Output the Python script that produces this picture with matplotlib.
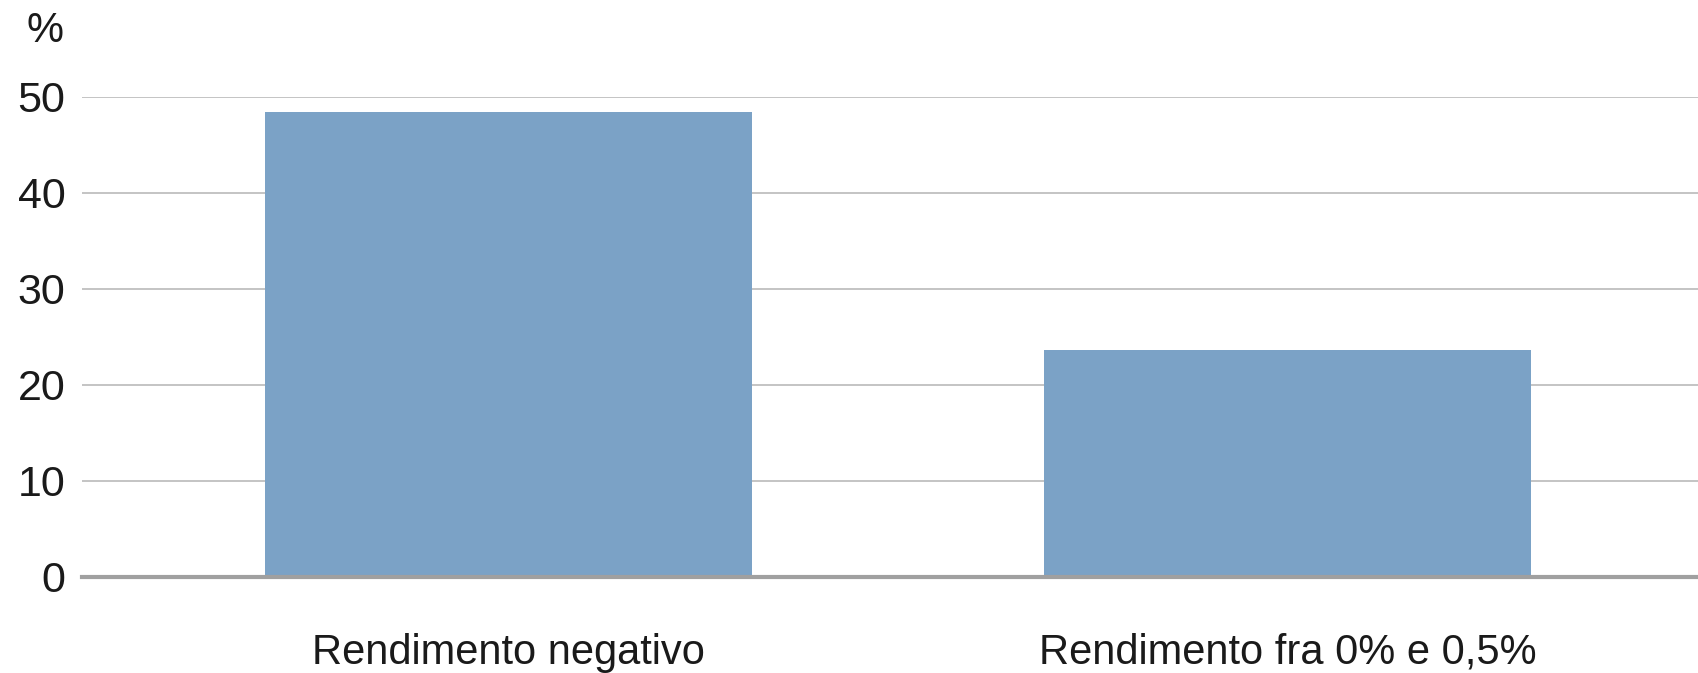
import numpy as np
import matplotlib
matplotlib.use("Agg")
import matplotlib.pyplot as plt

# Dati del grafico
categorie = ["Rendimento negativo", "Rendimento fra 0% e 0,5%"]
valori = [48.4, 23.6]
yticks = [0, 10, 20, 30, 40, 50]

plt.rcParams['font.family'] = ['Liberation Sans', 'DejaVu Sans']

fig = plt.figure(figsize=(16.98, 6.73), dpi=100)
ax = fig.add_axes([82/1698, 96/673, 1 - 82/1698, 480/673])

x = np.arange(len(categorie))
ax.bar(x, valori, width=0.625, color="#7BA2C6", zorder=2)

ax.set_xlim(-0.5475, 1.527)
ax.set_ylim(0, 50)
ax.set_yticks(yticks)
ax.set_yticklabels([str(v) for v in yticks])
ax.set_xticks(x)
ax.set_xticklabels(categorie)

# Griglia e assi
ax.yaxis.grid(True, color="#b4b4b4", linewidth=1.1, zorder=0)
ax.set_axisbelow(True)
ax.axhline(0, color="#a0a0a0", linewidth=3, zorder=3, clip_on=False)
for s in ax.spines.values():
    s.set_visible(False)

ax.tick_params(axis="y", length=0, pad=12, labelsize=31, labelcolor="#1a1a1a")
ax.tick_params(axis="x", length=0, pad=40, labelsize=30, labelcolor="#1a1a1a")

fig.text(64/1698, 1 - 11/673, "%", ha="right", va="top", fontsize=30, color="#1a1a1a")

fig.savefig("out.png", dpi=100)
